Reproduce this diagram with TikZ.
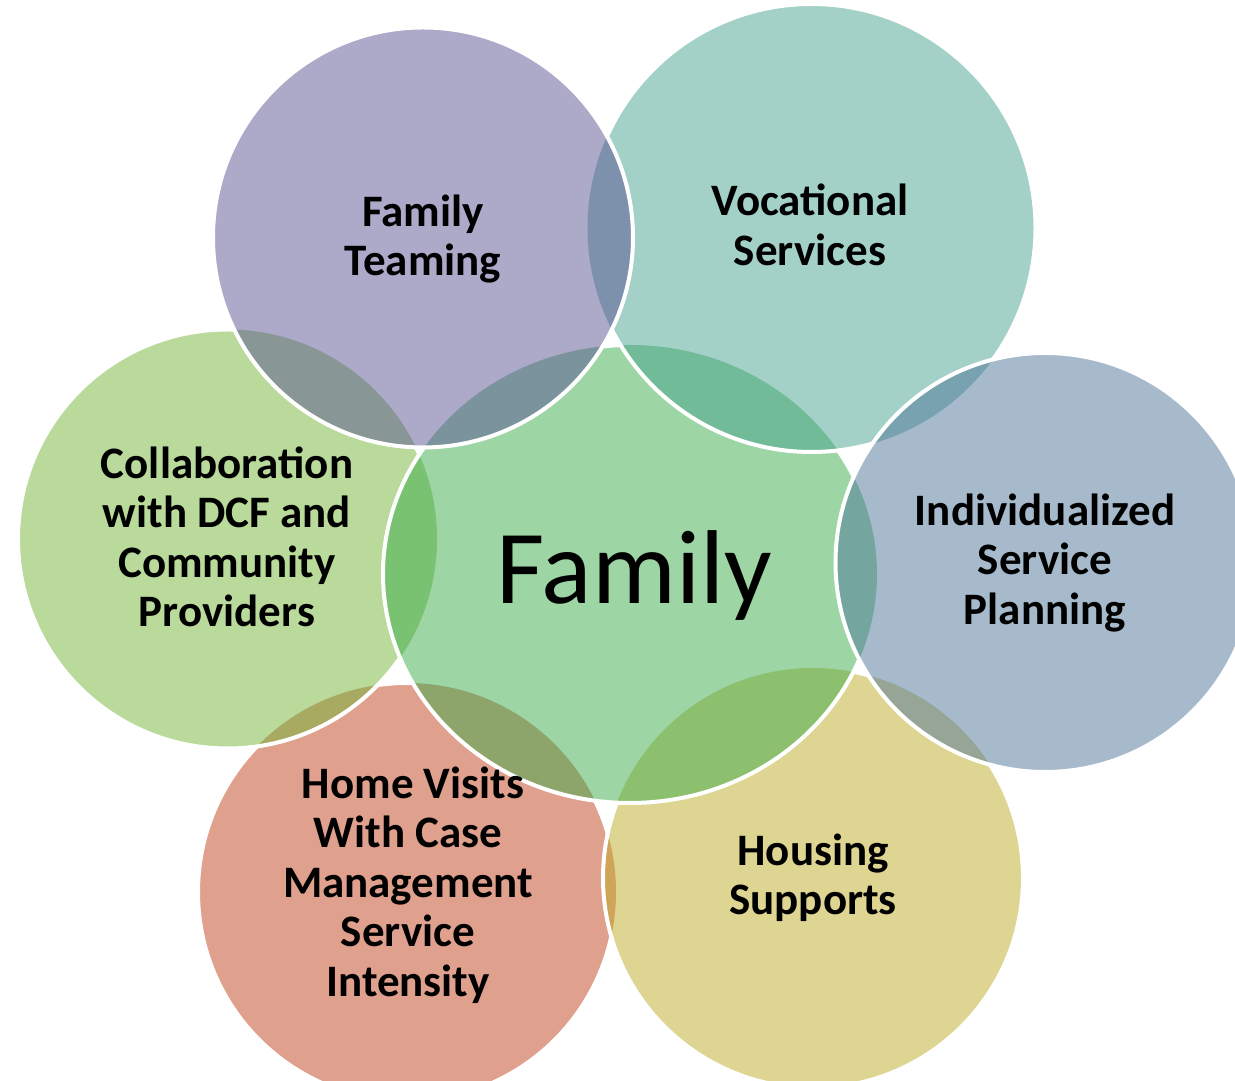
\documentclass[tikz,border=0pt]{standalone}
\usepackage{fontspec}
\setmainfont{Carlito}
% circle outlines, reused for filling, outlining and clipping
\newcommand\shHome{(407,189) circle[radius=209]}
\newcommand\shCollab{(227.5,542) circle[radius=209.5]}
\newcommand\shHousing{(813,203) circle[radius=210]}
\newcommand\shFamily{(630,507) ellipse[x radius=247, y radius=229]}
\newcommand\shVocation{(811.5,853) circle[radius=224]}
\newcommand\shTeaming{(423,843.5) circle[radius=210]}
\newcommand\shPlanning{(1045,518.5) circle[radius=209.5]}
% a frame around everything, run clockwise so a circle inside it becomes a hole
\newcommand\shAway{(-60,-60) -- (-60,1150) -- (1300,1150) -- (1300,-60) -- cycle}
\begin{document}
\begin{tikzpicture}[x=1pt,y=1pt,
  bubble/.style={fill opacity=0.5},
  rim/.style={draw=white, line width=4pt},
  holes/.style={even odd rule},
  lbl/.style={align=center, inner sep=0pt, text=black,
    font=\fontsize{45}{49.5}\selectfont\bfseries},
]
\definecolor{cHome}{RGB}{193,65,29}
\definecolor{cCollab}{RGB}{115,181,53}
\definecolor{cHousing}{RGB}{189,171,37}
\definecolor{cFamily}{RGB}{59,171,75}
\definecolor{cVocation}{RGB}{71,163,143}
\definecolor{cTeaming}{RGB}{89,83,147}
\definecolor{cPlanning}{RGB}{79,117,153}

\useasboundingbox (0,0) rectangle (1235,1081);

% translucent fills, back to front
\fill[bubble, cHome] \shHome;
\fill[bubble, cCollab] \shCollab;
\fill[bubble, cHousing] \shHousing;
\fill[bubble, cFamily] \shFamily;
\fill[bubble, cVocation] \shVocation;
\fill[bubble, cTeaming] \shTeaming;
\fill[bubble, cPlanning] \shPlanning;

% white rims, each hidden where a later circle lies on top of it
\begin{scope}[holes]
  \clip \shAway \shCollab;
  \clip \shAway \shHousing;
  \clip \shAway \shFamily;
  \draw[rim] \shHome;
\end{scope}
\begin{scope}[holes]
  \clip \shAway \shHousing;
  \clip \shAway \shFamily;
  \clip \shAway \shTeaming;
  \draw[rim] \shCollab;
\end{scope}
\begin{scope}[holes]
  \clip \shAway \shFamily;
  \clip \shAway \shPlanning;
  \draw[rim] \shHousing;
\end{scope}
\begin{scope}[holes]
  \clip \shAway \shVocation;
  \clip \shAway \shTeaming;
  \clip \shAway \shPlanning;
  \draw[rim] \shFamily;
\end{scope}
\begin{scope}[holes]
  \clip \shAway \shTeaming;
  \clip \shAway \shPlanning;
  \draw[rim] \shVocation;
\end{scope}
\begin{scope}[holes]
  \clip \shAway \shPlanning;
  \draw[rim] \shTeaming;
\end{scope}
\draw[rim] \shPlanning;

% labels
\node[lbl] (teaming) at (423,842) {Family\\Teaming};
\node[lbl] (vocation) at (810,856) {Vocational\\Services};
\node[lbl] (planning) at (1045,518) {Individualized\\Service\\Planning};
\node[lbl] (housing) at (813,203) {Housing\\Supports};
\node[lbl] (home) at (408,196) {\hspace*{10pt}Home Visits\\With Case\\Management\\Service\\Intensity};
\node[lbl] (collab) at (227,544) {Collaboration\\with DCF and\\Community\\Providers};
\node[inner sep=0pt, font=\fontsize{105}{120}\selectfont] (family) at (634,505) {Family};
\end{tikzpicture}
\end{document}
